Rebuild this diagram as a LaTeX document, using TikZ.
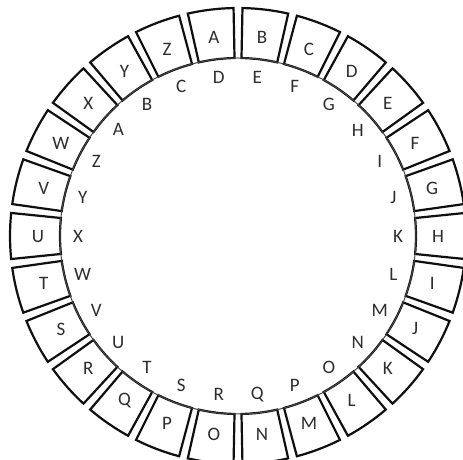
\documentclass[tikz,border=0pt]{standalone}
\usepackage{fontspec}
\setmainfont{Carlito}
\usepackage{xcolor}
\definecolor{wheelblack}{RGB}{15,15,15}
\definecolor{wheelgray}{RGB}{70,70,70}
\definecolor{lettergray}{RGB}{45,45,45}
\usepackage{tikz}
\usetikzlibrary{calc}

\tikzset{
  wheelbox/.style={draw=wheelblack, line width=2.2pt, fill=white, line join=miter},
  wheelletter/.style={font=\fontsize{19}{19}\selectfont, text=lettergray, inner sep=0pt},
}

\begin{document}
\begin{tikzpicture}[x=1pt, y=1pt]
  \useasboundingbox (0,0) rectangle (463,460);
  \clip (0,0) rectangle (463,460);
  \coordinate (ctr) at (238,224);

  % Outer ring: plain alphabet in boxes
  \foreach \l [count=\i from 0] in {A,...,Z} {
    \pgfmathsetmacro{\ang}{96.92-13.846*\i}
    \draw[wheelbox] ($(ctr)+(\ang-5.8:178)$) arc[start angle=\ang-5.8, end angle=\ang+5.8, radius=178]
      -- ($(ctr)+(\ang+5.8:228)$) arc[start angle=\ang+5.8, end angle=\ang-5.8, radius=228] -- cycle;
    \node[wheelletter] (out-\l) at ($(ctr)+(\ang:200)$) {\l};
  }

  % Inner circle
  \draw[wheelgray, line width=1pt] (ctr) circle (178);

  % Inner ring: alphabet shifted by three
  \foreach \l [count=\i from 0] in {D,E,F,G,H,I,J,K,L,M,N,O,P,Q,R,S,T,U,V,W,X,Y,Z,A,B,C} {
    \pgfmathsetmacro{\ang}{96.92-13.846*\i}
    \node[wheelletter] (in-\l) at ($(ctr)+(\ang:160)$) {\l};
  }
\end{tikzpicture}
\end{document}
